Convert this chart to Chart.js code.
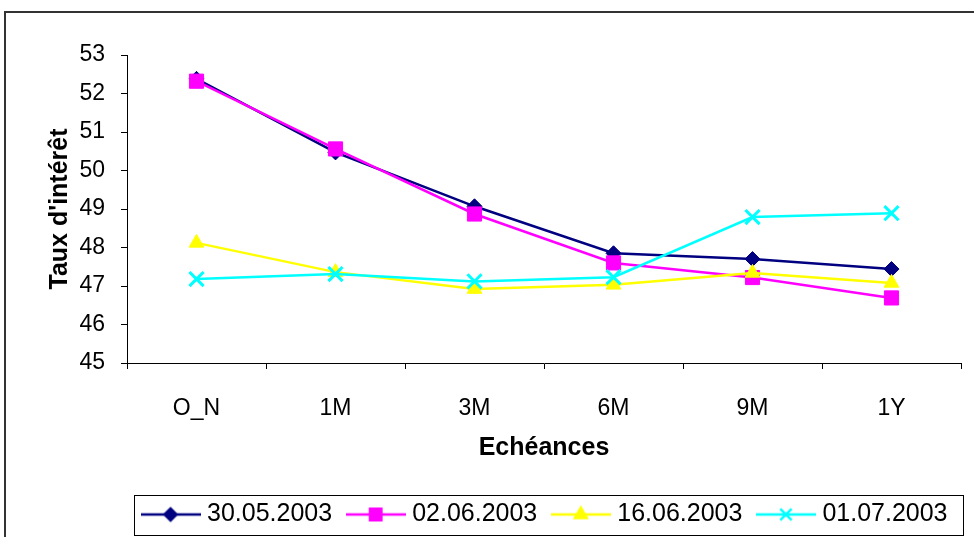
<!DOCTYPE html>
<html>
<head>
<meta charset="utf-8">
<title>Taux d'intérêt</title>
<script src="https://cdn.jsdelivr.net/npm/chart.js@4/dist/chart.umd.min.js"></script>
<style>
  html, body { margin: 0; padding: 0; background: #fff; }
  canvas { display: block; }
</style>
</head>
<body>
<canvas id="chart" width="974" height="537"></canvas>
<script>
const categories = ['O_N', '1M', '3M', '6M', '9M', '1Y'];
const seriesNames = ['30.05.2003', '02.06.2003', '16.06.2003', '01.07.2003'];
const s30May = [52.38, 50.47, 49.07, 47.85, 47.70, 47.44];
const s02Jun = [52.32, 50.56, 48.87, 47.60, 47.22, 46.69];
const s16Jun = [48.12, 47.36, 46.92, 47.03, 47.34, 47.08];
const s01Jul = [47.18, 47.31, 47.12, 47.23, 48.79, 48.89];
const yTicks = [45, 46, 47, 48, 49, 50, 51, 52, 53];

const FONT = "'Liberation Sans', Arial, sans-serif";

// series look: colour, point style, radius
const styles = [
    { color: '#000080', point: 'rectRot', radius: 7.5, border: 1 },
    { color: '#FF00FF', point: 'rect', radius: 10, border: 1 },
    { color: '#FFFF00', point: 'triangle', radius: 8.5, border: 1 },
    { color: '#00FFFF', point: 'crossRot', radius: 10, border: 3 }
];

// legend icon: a short line with the marker in the middle
function makeIcon(st) {
    const c = document.createElement('canvas');
    c.width = 60; c.height = 24;
    const ctx = c.getContext('2d');
    ctx.strokeStyle = st.color;
    ctx.fillStyle = st.color;
    ctx.lineWidth = 2.5;
    ctx.beginPath();
    ctx.moveTo(0, 12); ctx.lineTo(60, 12);
    ctx.stroke();
    Chart.helpers.drawPoint(ctx, {
        pointStyle: st.point,
        radius: st.radius * 0.8,
        rotation: 0,
        borderWidth: st.border
    }, 30, 12);
    return c;
}

const values = [s30May, s02Jun, s16Jun, s01Jul];
const datasets = values.map((vals, i) => ({
    label: seriesNames[i],
    data: vals,
    borderColor: styles[i].color,
    backgroundColor: styles[i].color,
    borderWidth: 2.5,
    tension: 0,
    pointStyle: styles[i].point,
    pointRadius: styles[i].radius,
    pointBorderWidth: styles[i].border,
    pointBackgroundColor: styles[i].color,
    pointBorderColor: styles[i].color,
    order: values.length - i   // later series drawn on top, like Excel
}));

const icons = styles.map(makeIcon);

const framePlugin = {
    id: 'frame',
    beforeDraw(chart) {
        const ctx = chart.ctx;
        ctx.save();
        ctx.fillStyle = '#fff';
        ctx.fillRect(0, 0, chart.width, chart.height);
        ctx.strokeStyle = '#333';
        ctx.lineWidth = 2;
        ctx.strokeRect(5, 12, chart.width + 20, chart.height + 20);
        ctx.restore();
    },
    afterDraw(chart) {
        const boxes = chart.legend.legendHitBoxes;
        if (!boxes || !boxes.length) return;
        const first = boxes[0], last = boxes[boxes.length - 1];
        const cy = first.top + first.height / 2;
        const left = Math.round(first.left - 13);
        const ctx = chart.ctx;
        ctx.save();
        ctx.strokeStyle = '#000';
        ctx.lineWidth = 1;
        ctx.strokeRect(left + 0.5, Math.round(cy - 20) + 0.5,
            Math.round(last.left + last.width + 15 - left), 40);
        ctx.restore();
    }
};

new Chart(document.getElementById('chart'), {
    type: 'line',
    data: { labels: categories, datasets: datasets },
    plugins: [framePlugin],
    options: {
        responsive: false,
        devicePixelRatio: 1,
        animation: false,
        events: [],
        layout: { padding: { left: 0, right: 7, top: 55, bottom: 0 } },
        plugins: {
            tooltip: { enabled: false },
            legend: {
                position: 'bottom',
                align: 'end',
                labels: {
                    usePointStyle: true,
                    pointStyleWidth: 48,
                    padding: 19.5,
                    color: '#000',
                    font: { family: FONT, size: 25 },
                    generateLabels: chart => chart.data.datasets.map((ds, i) => ({
                        text: ds.label,
                        datasetIndex: i,
                        pointStyle: icons[i],
                        fillStyle: ds.borderColor,
                        strokeStyle: ds.borderColor,
                        lineWidth: 0,
                        fontColor: '#000',
                        hidden: false
                    }))
                }
            }
        },
        scales: {
            x: {
                offset: true,
                grid: { offset: true, drawOnChartArea: false, drawTicks: true, tickLength: 6, color: '#000' },
                border: { display: true, color: '#000', width: 1 },
                ticks: { color: '#000', padding: 26, maxRotation: 0, font: { family: FONT, size: 23 } },
                title: {
                    display: true, text: 'Echéances', color: '#000',
                    font: { family: FONT, size: 25, weight: 'bold' },
                    padding: { top: 0, bottom: 19.5 }
                },
                afterFit(scale) { scale.height = 119.5; }
            },
            y: {
                min: 45, max: 53,
                afterBuildTicks(scale) { scale.ticks = yTicks.map(v => ({ value: v })); },
                grid: { drawOnChartArea: false, drawTicks: true, tickLength: 6, color: '#000' },
                border: { display: true, color: '#000', width: 1 },
                ticks: { color: '#000', padding: 16, font: { family: FONT, size: 23 } },
                title: {
                    display: true, text: "Taux d'intérêt", color: '#000',
                    font: { family: FONT, size: 25, weight: 'bold' },
                    padding: { top: 45, bottom: 0 }
                },
                afterFit(scale) { scale.width = 127; }
            }
        }
    }
});
</script>
</body>
</html>
